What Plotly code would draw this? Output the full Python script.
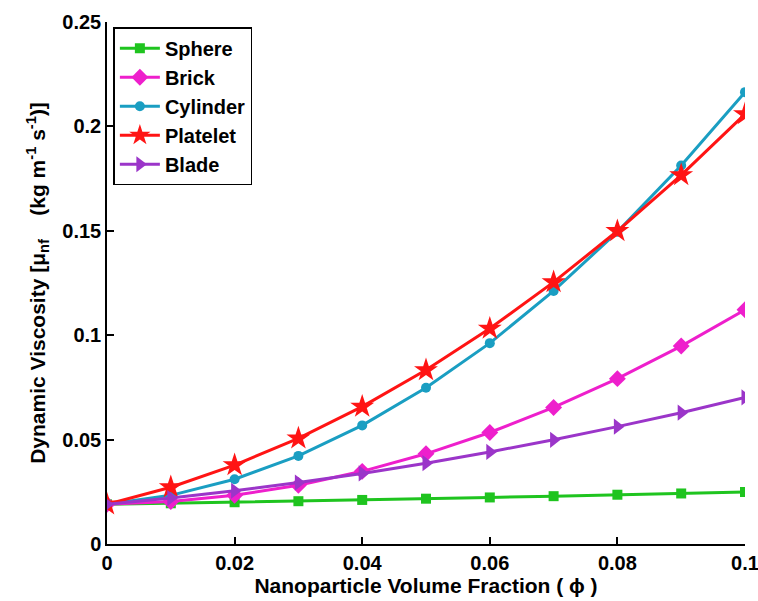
import plotly.graph_objects as go

phi = [0, 0.01, 0.02, 0.03, 0.04, 0.05, 0.06, 0.07, 0.08, 0.09, 0.1]

sphere = [0.0190, 0.0195, 0.0200, 0.0205, 0.0211, 0.0217, 0.0223, 0.0229, 0.0236, 0.0242, 0.0249]
brick = [0.0190, 0.0203, 0.0233, 0.0281, 0.0348, 0.0432, 0.0534, 0.0654, 0.0792, 0.0948, 0.1122]
cylinder = [0.0190, 0.0233, 0.0310, 0.0422, 0.0568, 0.0748, 0.0962, 0.1212, 0.1495, 0.1813, 0.2164]
platelet = [0.0190, 0.0272, 0.0378, 0.0506, 0.0658, 0.0833, 0.1032, 0.1254, 0.1499, 0.1767, 0.2059]
blade = [0.0190, 0.0220, 0.0255, 0.0294, 0.0338, 0.0387, 0.0441, 0.0499, 0.0562, 0.0629, 0.0702]

x_ticks = [0, 0.02, 0.04, 0.06, 0.08, 0.1]
x_tick_text = ["0", "0.02", "0.04", "0.06", "0.08", "0.1"]
y_ticks = [0, 0.05, 0.1, 0.15, 0.2, 0.25]
y_tick_text = ["0", "0.05", "0.1", "0.15", "0.2", "0.25"]

series = [
    ("Sphere", sphere, "#1fc41f", "square", 10),
    ("Brick", brick, "#ee1fcc", "diamond", 13),
    ("Cylinder", cylinder, "#1a9ec2", "circle", 10),
    ("Platelet", platelet, "#ff1414", "star", 18),
    ("Blade", blade, "#9b35c9", "triangle-right", 14),
]

fig = go.Figure()
for name, vals, color, sym, size in series:
    fig.add_trace(go.Scatter(
        x=phi, y=vals, name=name, mode="lines+markers",
        line=dict(color=color, width=3),
        marker=dict(symbol=sym, size=size, color=color, line=dict(width=0)),
    ))

FAM = "Liberation Sans, Arial, sans-serif"
tick_font = dict(family=FAM, size=20, color="black", weight="bold")

fig.update_layout(
    width=758, height=601,
    margin=dict(l=107, r=13, t=22, b=57),
    paper_bgcolor="white", plot_bgcolor="white",
    font=dict(family=FAM, size=20, color="black", weight="bold"),
    showlegend=True,
    legend=dict(
        x=0.01, y=0.99, xanchor="left", yanchor="top",
        bordercolor="black", borderwidth=1.5, bgcolor="white",
        font=dict(family=FAM, size=20, color="black", weight="bold"),
        itemwidth=40, tracegroupgap=0,
    ),
    xaxis=dict(
        range=[0, 0.100001], tickvals=x_ticks, ticktext=x_tick_text,
        showline=True, linecolor="black", linewidth=1.5, mirror=False,
        ticks="inside", ticklen=7, tickcolor="black", tickwidth=1.5,
        showgrid=False, zeroline=False, ticklabeloverflow="allow",
        automargin=False,
        title=dict(text="Nanoparticle Volume Fraction ( \u03d5 )", standoff=0,
                   font=dict(family=FAM, size=21, color="black", weight="bold")),
        tickfont=tick_font,
    ),
    yaxis=dict(
        range=[0, 0.250001], tickvals=y_ticks, ticktext=y_tick_text,
        showline=True, linecolor="black", linewidth=1.5, mirror=False,
        ticks="inside", ticklen=7, tickcolor="black", tickwidth=1.5,
        showgrid=False, zeroline=False, ticklabeloverflow="allow",
        automargin=False,
        title=dict(text="Dynamic Viscosity [\u03bc<sub>nf</sub>    (kg m<sup>-1</sup> s<sup>-1</sup>)]", standoff=11,
                   font=dict(family=FAM, size=21, color="black", weight="bold")),
        tickfont=tick_font,
    ),
)

fig.write_html("out.html")
